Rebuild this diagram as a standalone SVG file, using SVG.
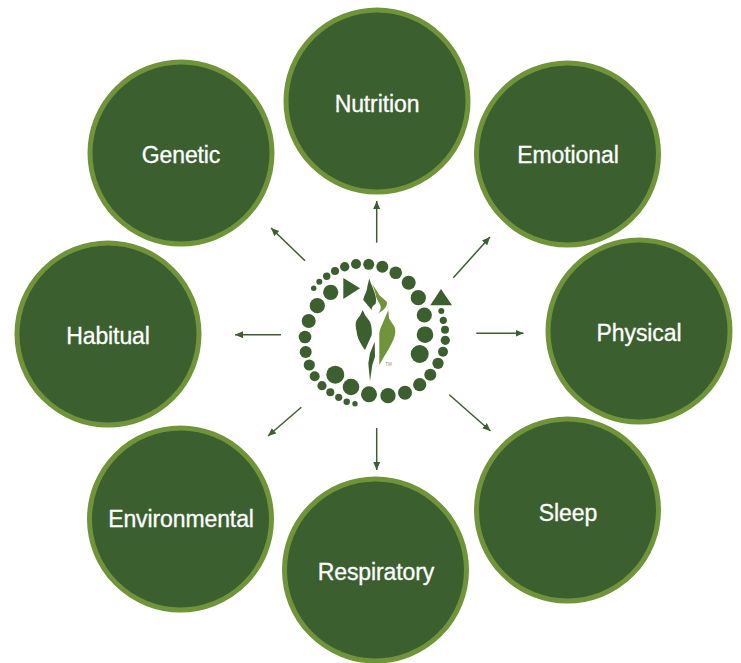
<svg xmlns="http://www.w3.org/2000/svg" width="741" height="663" viewBox="0 0 741 663">
<style>
.n{fill:#3b5f2f;stroke:#6f9439;stroke-width:5}
.t{fill:#fff;stroke:#fff;stroke-width:.3;font-family:"Liberation Sans",Arial,sans-serif;font-size:23px;text-anchor:middle;letter-spacing:-.1px}
.c{stroke:#3b5f2f;stroke-width:1.5;fill:none;marker-end:url(#a)}
.d{fill:#3b5f2f}
.l{fill:#6f9439}
</style>
<defs><marker id="a" markerUnits="userSpaceOnUse" markerWidth="9" markerHeight="8" refX="8" refY="3.500" orient="auto"><path d="M0 0L8 3.500L0 7Z" fill="#3b5f2f"/></marker></defs>
<rect width="741" height="663" fill="#fff"/>
<g id="connectors">
<path class="c" d="M376.700 242.700V201"/>
<path class="c" d="M305 260.700L271 228"/>
<path class="c" d="M453.300 277.700L490 237"/>
<path class="c" d="M476.300 333.300H523.500"/>
<path class="c" d="M449.300 394.700L490.500 431"/>
<path class="c" d="M376.700 428V470"/>
<path class="c" d="M301.300 407.300L268 436"/>
<path class="c" d="M281 334.700H235"/>
</g>
<g id="nutrition"><circle class="n" cx="377" cy="101" r="91"/><text class="t" x="377" y="112">Nutrition</text></g>
<g id="emotional"><circle class="n" cx="567.500" cy="154" r="91"/><text class="t" x="568" y="163">Emotional</text></g>
<g id="physical"><circle class="n" cx="639" cy="331" r="91"/><text class="t" x="639" y="341">Physical</text></g>
<g id="sleep"><circle class="n" cx="567.500" cy="510" r="91"/><text class="t" x="568" y="521">Sleep</text></g>
<g id="respiratory"><circle class="n" cx="375.500" cy="570" r="91"/><text class="t" x="376" y="580">Respiratory</text></g>
<g id="environmental"><circle class="n" cx="180.500" cy="519" r="91"/><text class="t" x="181" y="527">Environmental</text></g>
<g id="habitual"><circle class="n" cx="108" cy="334" r="91"/><text class="t" x="108" y="344">Habitual</text></g>
<g id="genetic"><circle class="n" cx="181" cy="153" r="91"/><text class="t" x="181" y="163">Genetic</text></g>
<g id="logo">
<g class="d">
<circle cx="313.700" cy="288.300" r="2.700"/><circle cx="319.300" cy="281.700" r="3"/><circle cx="326.700" cy="276.300" r="3.700"/><circle cx="335" cy="271" r="4"/><circle cx="344.700" cy="266.700" r="4.700"/><circle cx="356" cy="264" r="5"/><circle cx="368.700" cy="264.300" r="5.500"/><circle cx="382.300" cy="266.700" r="6"/><circle cx="395.700" cy="272.700" r="6.300"/><circle cx="408.700" cy="282.700" r="7"/><circle cx="418.300" cy="297.700" r="7.600"/><circle cx="424.300" cy="315" r="7.600"/><circle cx="425" cy="334.700" r="8.300"/><circle cx="419.700" cy="354" r="9"/>
<circle cx="441.300" cy="311" r="3"/><circle cx="443.300" cy="320.300" r="3.600"/><circle cx="445" cy="329.700" r="4"/><circle cx="445.300" cy="340.300" r="4.600"/><circle cx="443" cy="351.700" r="5"/><circle cx="438" cy="363.300" r="5.600"/><circle cx="430.300" cy="374.700" r="6"/><circle cx="419.700" cy="384.700" r="6.600"/><circle cx="405" cy="392.700" r="7"/><circle cx="388" cy="395.700" r="7.600"/><circle cx="369" cy="394.300" r="8"/><circle cx="351" cy="387" r="8.300"/><circle cx="335.300" cy="374.700" r="9"/>
<circle cx="330.700" cy="292.300" r="7.600"/><circle cx="317.300" cy="305.700" r="7.600"/><circle cx="308.700" cy="321" r="7"/><circle cx="305" cy="337" r="6.300"/><circle cx="305.700" cy="352" r="6"/><circle cx="309.300" cy="365" r="5.600"/><circle cx="314.700" cy="376.300" r="5"/><circle cx="322" cy="385.700" r="4.600"/><circle cx="330.300" cy="392.300" r="4"/><circle cx="338.700" cy="397.300" r="3.600"/><circle cx="346.700" cy="401.700" r="3.200"/><circle cx="355" cy="403.700" r="2.700"/>
<path d="M343.300 278L360 288.300L343.300 299Z"/><path d="M441 289L452 305.300H430.300Z"/>
<path d="M369.300 278.500C371 285 374.500 290 375.700 296.700C376.300 300 376 302 375.500 304C372.500 305.500 371.500 307.500 371.700 310L363.300 300C364 295 367 292 367.300 286.700Z"/>
<path d="M362.700 310L365 315L370 321.700C372 327 372 331 371.700 335L365 350C360 343 357 337 356.700 331.700C355.500 327 355.500 324 356 321.700C357 319 359 317 360 315.700Z"/>
<path d="M374.700 341.700L375 356.700L372.300 365L370 381L368.300 363.300L370 353.300Z"/>
</g>
<g class="l">
<path d="M372.300 284.300C375 288 377 291 379.300 295C382 298 385 299.500 386.700 301.700C387.500 304 386.500 306 385 308C383 310.500 380.500 312 378.300 313.300C380 311 381 309 380.700 307C380 304.500 379.500 303 378.300 301.700C377.500 300 376.500 298 376 296.700C375.500 292 373.500 288 372.300 284.300Z"/>
<path d="M388.300 310L389 318.300C391 322 394 325 395 328.300C396 334 394 339 391.700 343.300C388 351 383 358 379.300 365L379.300 333.300C380 328 382 325 383.300 321.700Z"/>
</g>
<text x="388.500" y="365.500" font-family="Liberation Sans,Arial,sans-serif" font-size="4.500" fill="#8a9a6a" text-anchor="middle">TM</text>
</g>
</svg>
